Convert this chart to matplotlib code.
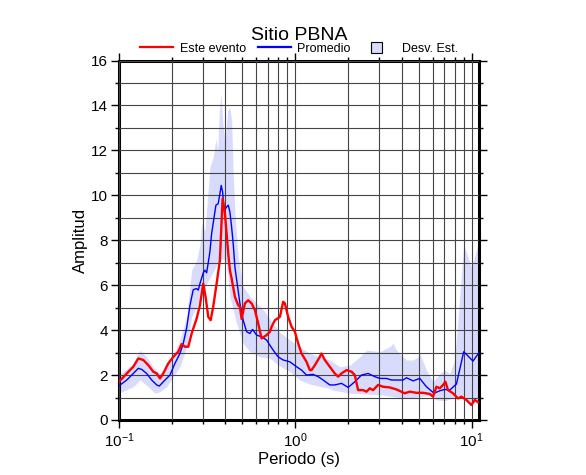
import numpy as np
import matplotlib.pyplot as plt
from matplotlib.lines import Line2D
from matplotlib.patches import Patch, Rectangle
from matplotlib.legend_handler import HandlerPatch
from matplotlib.ticker import LogLocator, MultipleLocator, NullFormatter

plt.rcParams['font.family'] = ['Liberation Sans', 'DejaVu Sans']

# Este evento (red)
evento_t = [0.100, 0.1106, 0.1205, 0.1286, 0.1373, 0.1466, 0.1564, 0.1636, 0.1707,
            0.1782, 0.1902, 0.2030, 0.2168, 0.2266, 0.2366, 0.2470, 0.2582, 0.2756,
            0.2877, 0.3004, 0.3106, 0.3206, 0.3308, 0.3422, 0.3576, 0.3734, 0.3818,
            0.3868, 0.3986, 0.4076, 0.4162, 0.4254, 0.4350, 0.4542, 0.4741, 0.4848,
            0.4956, 0.5174, 0.5402, 0.5647, 0.5897, 0.6155, 0.6434, 0.6867, 0.7170,
            0.7332, 0.7654, 0.8170, 0.8529, 0.8720, 0.9105, 0.9517, 0.9935, 1.037,
            1.084, 1.157, 1.208, 1.235, 1.290, 1.376, 1.407, 1.469, 1.568, 1.674,
            1.748, 1.827, 1.950, 2.082, 2.173, 2.269, 2.422, 2.532, 2.643, 2.759,
            2.945, 3.144, 3.431, 3.745, 4.173, 4.454, 4.862, 5.298, 5.781, 6.035,
            6.310, 6.589, 6.879, 7.096, 7.342, 7.836, 8.364, 8.743, 9.333, 9.960,
            10.40, 10.86]
evento_a = [1.70, 2.07, 2.37, 2.74, 2.67, 2.44, 2.15, 2.07, 1.85,
            2.07, 2.52, 2.81, 3.04, 3.38, 3.26, 3.26, 3.85, 4.52,
            5.11, 6.07, 5.41, 4.59, 4.44, 5.04, 6.07, 7.11, 8.90,
            9.85, 9.19, 8.30, 7.41, 6.67, 6.30, 5.48, 5.11, 5.04,
            4.50, 5.19, 5.33, 5.19, 4.89, 4.30, 3.63, 3.78, 3.93,
            4.15, 4.44, 4.59, 5.26, 5.19, 4.59, 4.15, 3.93, 3.41,
            2.96, 2.59, 2.22, 2.22, 2.44, 2.81, 2.96, 2.67, 2.37, 2.07,
            1.93, 2.07, 2.22, 2.15, 2.00, 1.33, 1.33, 1.26, 1.41, 1.33,
            1.56, 1.48, 1.45, 1.36, 1.19, 1.26, 1.21, 1.21, 1.16, 1.04,
            1.48, 1.41, 1.56, 1.70, 1.33, 1.19, 0.96, 1.04, 0.89, 0.67,
            0.89, 0.80]

# Promedio (blue)
prom_t = [0.100, 0.1106, 0.1205, 0.1286, 0.1345, 0.1435, 0.1532, 0.1636, 0.1692,
          0.1782, 0.1945, 0.2076, 0.2216, 0.2314, 0.2419, 0.2525, 0.2636, 0.2756,
          0.2814, 0.2877, 0.3004, 0.3071, 0.3140, 0.3206, 0.3278, 0.3352, 0.3544,
          0.3652, 0.3734, 0.3798, 0.3868, 0.3950, 0.4076, 0.4162, 0.4254, 0.4350,
          0.4442, 0.4542, 0.4848, 0.5061, 0.5290, 0.5524, 0.5722, 0.6029, 0.6434,
          0.6867, 0.7170, 0.7486, 0.7990, 0.8529, 0.9307, 1.016, 1.084, 1.157,
          1.261, 1.346, 1.437, 1.568, 1.674, 1.827, 1.992, 2.173, 2.372, 2.585,
          2.821, 3.011, 3.286, 3.508, 3.745, 4.081, 4.266, 4.650, 5.075, 5.538,
          6.115, 6.589, 7.031, 7.507, 8.191, 9.010, 9.528, 10.17, 10.98]
prom_a = [1.52, 1.78, 2.07, 2.30, 2.25, 2.07, 1.78, 1.56, 1.51,
          1.70, 2.00, 2.52, 2.96, 3.41, 4.10, 5.10, 5.80, 5.85,
          5.78, 6.07, 6.55, 6.67, 6.55, 7.00, 7.50, 8.30, 9.56,
          9.63, 10.07, 10.44, 10.15, 9.33, 9.48, 9.56, 9.26, 8.59,
          7.85, 6.80, 5.19, 4.44, 3.93, 3.85, 4.03, 3.78, 3.70,
          3.56, 3.33, 3.11, 2.81, 2.67, 2.59, 2.37, 2.22, 2.00,
          2.03, 1.93, 1.78, 1.56, 1.56, 1.63, 1.45, 1.70, 2.00, 2.07,
          1.93, 1.85, 1.85, 1.78, 1.78, 1.78, 1.88, 1.74, 1.85, 1.48,
          1.19, 1.30, 1.36, 1.33, 1.60, 3.04, 2.85, 2.62, 2.99]

# Desv. Est. band (upper / lower)
sup_t = [0.100, 0.1205, 0.1315, 0.1435, 0.1564, 0.1707, 0.1863, 0.2030, 0.2216,
         0.2419, 0.2582, 0.2756, 0.2877, 0.2942, 0.3071, 0.3278, 0.3422, 0.3544,
         0.3623, 0.3700, 0.3783, 0.3868, 0.3986, 0.4130, 0.4254, 0.4350, 0.4442,
         0.4542, 0.4741, 0.5061, 0.5524, 0.6029, 0.6570, 0.7170, 0.7486, 0.8170,
         0.9307, 1.060, 1.208, 1.376, 1.568, 1.787, 2.036, 2.319, 2.532, 3.011,
         3.431, 3.582, 3.745, 4.266, 4.650, 4.964, 5.075, 5.538, 6.035, 6.589,
         7.031, 7.507, 8.011, 8.551, 9.010, 9.528, 9.960, 10.40, 10.98]
sup_a = [2.00, 2.52, 3.11, 2.80, 2.37, 2.07, 2.37, 2.89, 3.56,
         4.59, 6.67, 7.11, 7.80, 8.74, 8.40, 11.26, 11.70, 12.52,
         12.00, 13.63, 14.55, 13.33, 12.30, 13.78, 13.90, 13.33, 10.96,
         9.19, 7.26, 5.93, 5.50, 5.20, 4.90, 4.50, 4.30, 3.90,
         3.56, 3.26, 2.96, 2.81, 2.67, 2.37, 2.44, 2.81, 3.11, 3.04,
         3.26, 3.41, 3.11, 2.67, 2.67, 2.81, 2.96, 2.22, 1.70, 2.07,
         2.22, 2.07, 2.67, 5.48, 7.78, 7.26, 6.81, 7.26, 8.00]

inf_t = [0.100, 0.1205, 0.1315, 0.1466, 0.1600, 0.1707, 0.1863, 0.2030, 0.2216,
         0.2419, 0.2582, 0.2756, 0.2942, 0.3206, 0.3422, 0.3652, 0.3868, 0.4076,
         0.4254, 0.4644, 0.5061, 0.5524, 0.6293, 0.7170, 0.8170, 0.9307, 1.060,
         1.208, 1.376, 1.568, 1.637, 2.036, 2.532, 3.144, 3.874, 4.266, 5.075,
         5.781, 6.310, 7.031, 7.674, 8.191, 8.743, 9.333, 10.17, 10.98]
inf_a = [1.19, 1.48, 1.78, 1.48, 1.19, 1.26, 1.48, 1.93, 2.37,
         3.26, 4.59, 5.04, 5.63, 6.20, 6.60, 7.00, 7.20, 7.00,
         5.48, 4.30, 3.41, 3.04, 2.81, 2.75, 2.40, 2.15, 1.78,
         1.60, 1.50, 1.41, 1.33, 1.20, 1.16, 1.11, 1.00, 0.96, 1.04,
         1.10, 0.89, 0.86, 0.96, 1.10, 1.00, 0.95, 0.74, 0.74]

BAND_COLOR = '#d8dbfb'


def square_patch(legend, orig_handle, xdescent, ydescent, width, height, fontsize):
    # small square box, a bit right of the handle area start
    size = 8.5
    return Rectangle((-xdescent + 6, -ydescent + height / 2 - size / 2), size, size)


fig = plt.figure(figsize=(5.86, 4.75), dpi=100)
ax = fig.add_axes([0.2031, 0.1158, 0.6143, 0.7568])

# band: put both edges on one common period grid made of the read periods
band_t = np.unique(np.concatenate([sup_t, inf_t]))
band_hi = np.interp(np.log10(band_t), np.log10(sup_t), sup_a)
band_lo = np.interp(np.log10(band_t), np.log10(inf_t), inf_a)
ax.fill_between(band_t, band_lo, band_hi, color=BAND_COLOR, lw=0, zorder=1)

ax.plot(prom_t, prom_a, color='#0000ff', lw=1.0, zorder=3)
ax.plot(evento_t, evento_a, color='#ff0000', lw=1.7, zorder=4)

ax.set_xscale('log')
ax.set_xlim(0.1, 11)
ax.set_ylim(0, 16)
ax.xaxis.set_major_locator(LogLocator(base=10))
ax.xaxis.set_minor_locator(LogLocator(base=10, subs=np.arange(2, 10)))
ax.xaxis.set_minor_formatter(NullFormatter())
ax.yaxis.set_major_locator(MultipleLocator(2))
ax.yaxis.set_minor_locator(MultipleLocator(1))

ax.grid(True, which='both', color='#444444', lw=0.8, zorder=2)
ax.set_axisbelow(False)

for s in ax.spines.values():
    s.set_linewidth(2.2)
ax.tick_params(which='both', direction='out', top=True, right=True,
               labeltop=False, labelright=False, labelsize=11, width=1)
ax.tick_params(which='major', length=6, pad=2)
ax.tick_params(which='minor', length=3)

ax.set_xlabel('Periodo (s)', fontsize=12, labelpad=2)
ax.set_ylabel('Amplitud', fontsize=12, labelpad=2)
ax.set_title('Sitio PBNA', fontsize=14, pad=15)

band_handle = Patch(facecolor=BAND_COLOR, edgecolor='black', lw=0.8)
handles = [Line2D([], [], color='#ff0000', lw=1.6),
           Line2D([], [], color='#0000ff', lw=1.6),
           band_handle]
ax.legend(handles, ['Este evento', 'Promedio', 'Desv. Est.'], ncol=3,
          loc='lower center', bbox_to_anchor=(0.5, 0.995), frameon=False,
          fontsize=9, handlelength=2.65, handletextpad=0.5,
          columnspacing=0.95, borderpad=0.1,
          handler_map={Patch: HandlerPatch(patch_func=square_patch)})

fig.savefig('out.png', dpi=100)
